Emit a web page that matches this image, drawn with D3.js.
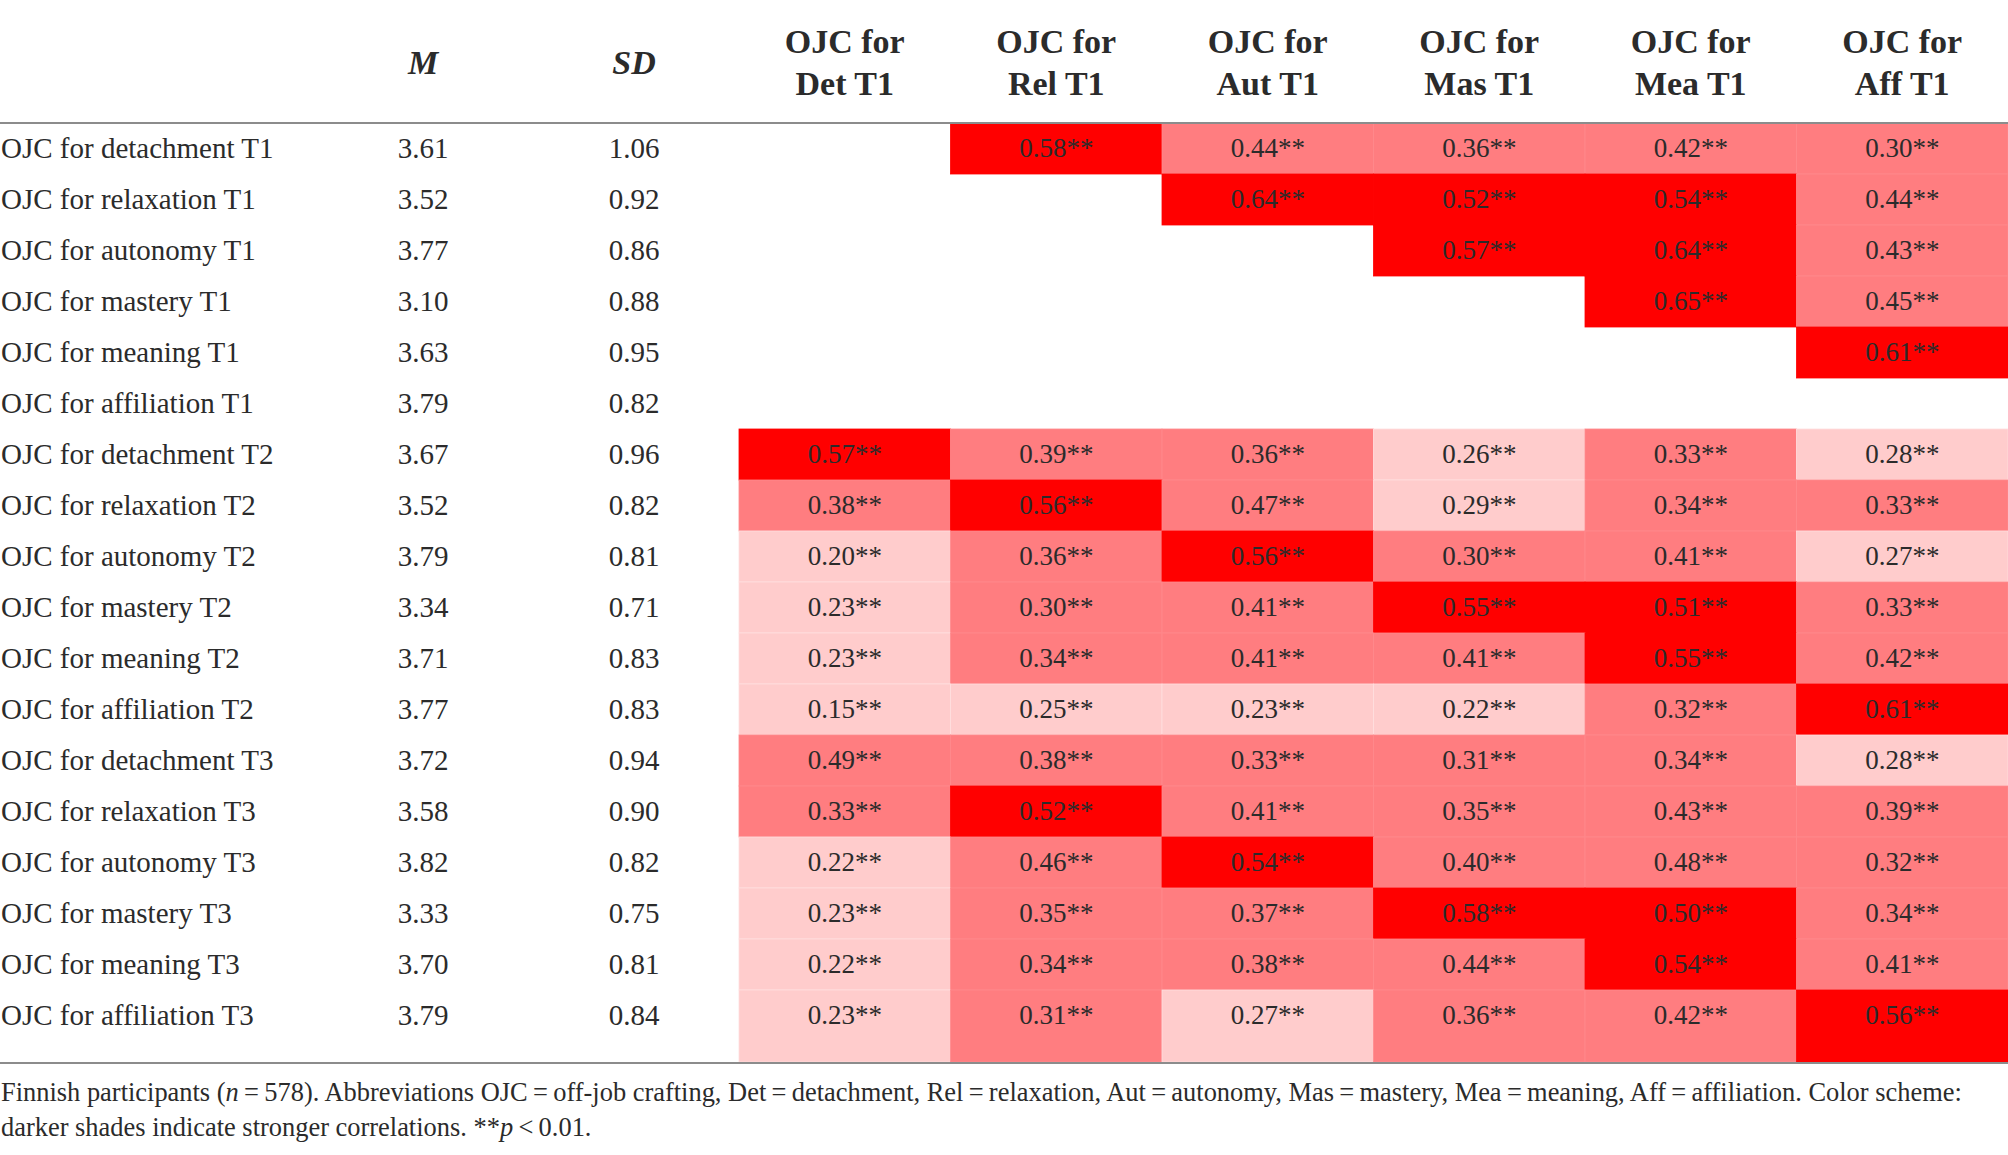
<!DOCTYPE html>
<html>
<head>
<meta charset="utf-8">
<script src="https://cdn.jsdelivr.net/npm/d3@7"></script>
<style>
  html, body { margin: 0; padding: 0; background: #fff; }
  svg { display: block; }
</style>
</head>
<body>
<div id="chart"></div>
<script>
// Correlation table — OJC (off-job crafting) T1/T2/T3

const ROW_LABELS = [
  'OJC for detachment T1', 'OJC for relaxation T1', 'OJC for autonomy T1',
  'OJC for mastery T1', 'OJC for meaning T1', 'OJC for affiliation T1',
  'OJC for detachment T2', 'OJC for relaxation T2', 'OJC for autonomy T2',
  'OJC for mastery T2', 'OJC for meaning T2', 'OJC for affiliation T2',
  'OJC for detachment T3', 'OJC for relaxation T3', 'OJC for autonomy T3',
  'OJC for mastery T3', 'OJC for meaning T3', 'OJC for affiliation T3'
];

const MEANS = ['3.61','3.52','3.77','3.10','3.63','3.79','3.67','3.52','3.79',
               '3.34','3.71','3.77','3.72','3.58','3.82','3.33','3.70','3.79'];
const SDS   = ['1.06','0.92','0.86','0.88','0.95','0.82','0.96','0.82','0.81',
               '0.71','0.83','0.83','0.94','0.90','0.82','0.75','0.81','0.84'];

const COL_LINE1 = 'OJC for';
const COL_LINE2 = ['Det T1', 'Rel T1', 'Aut T1', 'Mas T1', 'Mea T1', 'Aff T1'];

// null = empty cell
const CORR = [
  [null, 0.58, 0.44, 0.36, 0.42, 0.30],
  [null, null, 0.64, 0.52, 0.54, 0.44],
  [null, null, null, 0.57, 0.64, 0.43],
  [null, null, null, null, 0.65, 0.45],
  [null, null, null, null, null, 0.61],
  [null, null, null, null, null, null],
  [0.57, 0.39, 0.36, 0.26, 0.33, 0.28],
  [0.38, 0.56, 0.47, 0.29, 0.34, 0.33],
  [0.20, 0.36, 0.56, 0.30, 0.41, 0.27],
  [0.23, 0.30, 0.41, 0.55, 0.51, 0.33],
  [0.23, 0.34, 0.41, 0.41, 0.55, 0.42],
  [0.15, 0.25, 0.23, 0.22, 0.32, 0.61],
  [0.49, 0.38, 0.33, 0.31, 0.34, 0.28],
  [0.33, 0.52, 0.41, 0.35, 0.43, 0.39],
  [0.22, 0.46, 0.54, 0.40, 0.48, 0.32],
  [0.23, 0.35, 0.37, 0.58, 0.50, 0.34],
  [0.22, 0.34, 0.38, 0.44, 0.54, 0.41],
  [0.23, 0.31, 0.27, 0.36, 0.42, 0.56]
];

const SHADE_BREAKS = [0.30, 0.50];
const SHADES = ['#FFCCCC', '#FF7D80', '#FF0000'];

const W = 2008, H = 1155;
const FONT = "'Liberation Serif', 'Times New Roman', serif";
const INK  = '#2b2b2b';
const RULE = '#8c8c8c';

const HEAD_BOTTOM  = 123;
const ROW_H        = 51;
const TABLE_BOTTOM = 1062;

const svg = d3.select('#chart').append('svg')
  .attr('width', W).attr('height', H)
  .attr('viewBox', `0 0 ${W} ${H}`);

const rows = d3.range(ROW_LABELS.length);
const cols = d3.range(COL_LINE2.length);

const y = d3.scaleBand().domain(rows)
  .range([HEAD_BOTTOM, HEAD_BOTTOM + rows.length * ROW_H]);
const x = d3.scaleBand().domain(cols).range([739, 2008]);
const shade = d3.scaleThreshold().domain(SHADE_BREAKS).range(SHADES);

const X_M = 423, X_SD = 634;
const rowH = i => i === rows.length - 1 ? TABLE_BOTTOM - y(i) : y.bandwidth();

// Cells
const cells = [];
CORR.forEach((r, i) => r.forEach((v, j) => { if (v !== null) cells.push({ i, j, v }); }));

svg.append('g').selectAll('rect')
  .data(cells).enter()
  .append('rect')
  .attr('x', d => x(d.j))
  .attr('y', d => y(d.i))
  .attr('width', x.bandwidth())
  .attr('height', d => rowH(d.i))
  .attr('fill', d => shade(d.v))
  .attr('stroke', d => d3.color(shade(d.v)).brighter(0.25))
  .attr('stroke-width', 0.8);

svg.append('g').selectAll('text')
  .data(cells).enter()
  .append('text')
  .attr('x', d => x(d.j) + x.bandwidth() / 2)
  .attr('y', d => y(d.i) + 34)
  .attr('text-anchor', 'middle')
  .attr('font-family', FONT)
  .attr('font-size', 27)
  .attr('fill', INK)
  .text(d => d.v.toFixed(2) + '**');

// Row labels, M, SD
const body = svg.append('g')
  .attr('font-family', FONT).attr('font-size', 29).attr('fill', INK);

body.selectAll('.lbl').data(rows).enter()
  .append('text').attr('class', 'lbl')
  .attr('x', 1).attr('y', i => y(i) + 35)
  .text(i => ROW_LABELS[i]);

body.selectAll('.m').data(rows).enter()
  .append('text').attr('class', 'm')
  .attr('x', X_M).attr('y', i => y(i) + 35)
  .attr('text-anchor', 'middle')
  .text(i => MEANS[i]);

body.selectAll('.sd').data(rows).enter()
  .append('text').attr('class', 'sd')
  .attr('x', X_SD).attr('y', i => y(i) + 35)
  .attr('text-anchor', 'middle')
  .text(i => SDS[i]);

// Header
const head = svg.append('g')
  .attr('font-family', FONT).attr('font-size', 34)
  .attr('font-weight', 'bold').attr('fill', INK)
  .attr('text-anchor', 'middle');

head.append('text').attr('x', X_M).attr('y', 74).attr('font-style', 'italic').text('M');
head.append('text').attr('x', X_SD).attr('y', 74).attr('font-style', 'italic').text('SD');

cols.forEach(j => {
  const cx = x(j) + x.bandwidth() / 2;
  head.append('text').attr('x', cx).attr('y', 53).text(COL_LINE1);
  head.append('text').attr('x', cx).attr('y', 95).text(COL_LINE2[j]);
});

// Rules
svg.append('line')
  .attr('x1', 0).attr('x2', W)
  .attr('y1', HEAD_BOTTOM).attr('y2', HEAD_BOTTOM)
  .attr('stroke', RULE).attr('stroke-width', 2);
svg.append('line')
  .attr('x1', 0).attr('x2', W)
  .attr('y1', TABLE_BOTTOM + 1).attr('y2', TABLE_BOTTOM + 1)
  .attr('stroke', RULE).attr('stroke-width', 2);

// Footnote
const TS = '\u2009';
const note = svg.append('g')
  .attr('font-family', FONT).attr('font-size', 25).attr('fill', INK);

const l1 = note.append('text').attr('x', 1).attr('y', 1101);
l1.append('tspan').text('Finnish participants (');
l1.append('tspan').attr('font-style', 'italic').text('n');
l1.append('tspan').text(`${TS}=${TS}578). Abbreviations OJC${TS}=${TS}off-job crafting, Det${TS}=${TS}detachment, Rel${TS}=${TS}relaxation, Aut${TS}=${TS}autonomy, Mas${TS}=${TS}mastery, Mea${TS}=${TS}meaning, Aff${TS}=${TS}affiliation. Color scheme:`);

const l2 = note.append('text').attr('x', 1).attr('y', 1136);
l2.append('tspan').text('darker shades indicate stronger correlations. **');
l2.append('tspan').attr('font-style', 'italic').text('p');
l2.append('tspan').text(`${TS}<${TS}0.01.`);

// scale footnote so line 1 spans the same width as in print
const target = 1962;
const w1 = l1.node().getComputedTextLength();
if (w1 > 0) note.attr('font-size', 25 * target / w1);
</script>
</body>
</html>
